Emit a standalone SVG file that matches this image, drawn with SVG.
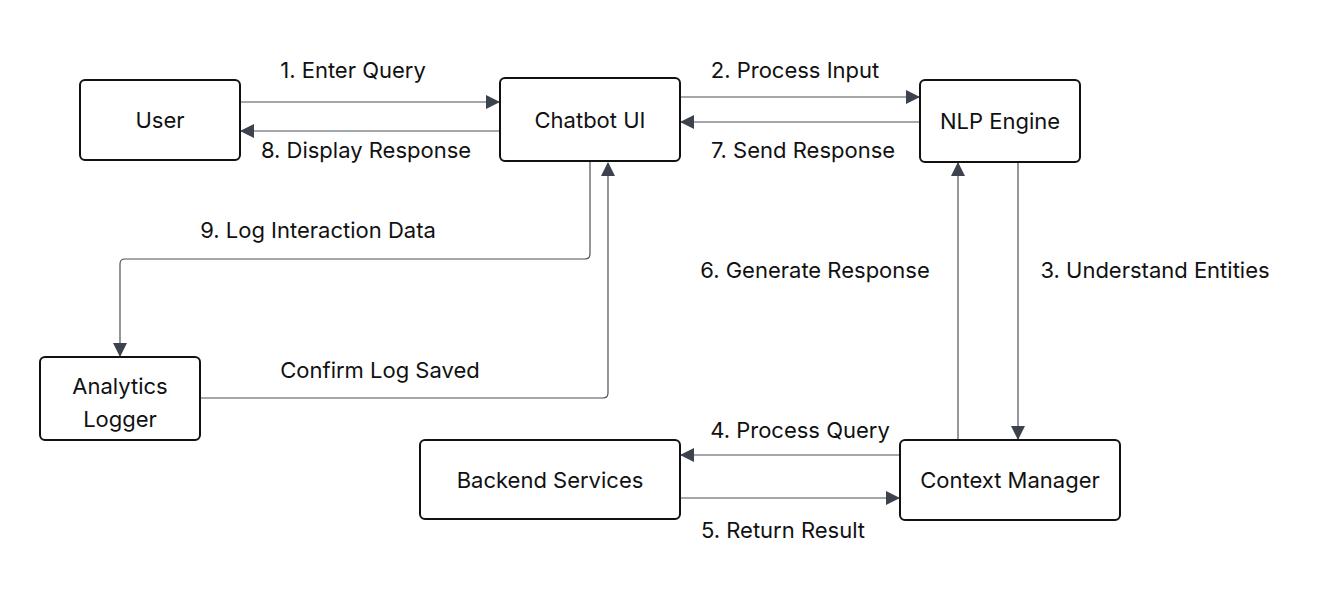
<svg xmlns="http://www.w3.org/2000/svg" width="1340" height="600" viewBox="0 0 1340 600">
<style>
.node rect{fill:#ffffff;stroke:#111111;stroke-width:2}
.node text,.lbl{font-family:Inter,"Noto Sans","Liberation Sans",sans-serif;font-size:22px;fill:#111111;text-anchor:middle}
.edge{fill:none;stroke:#4b5058;stroke-width:1.2}
</style>
<defs>
<marker id="arr" viewBox="0 0 14 14" refX="13" refY="7" markerWidth="14" markerHeight="14" markerUnits="userSpaceOnUse" orient="auto">
<path d="M0,0 L14,7 L0,14 Z" fill="#3d434c"/>
</marker>
</defs>
<rect width="1340" height="600" fill="#ffffff"/>
<g id="connectors">
<path class="edge" d="M240,102 H499" marker-end="url(#arr)"/>
<path class="edge" d="M500,131 H241" marker-end="url(#arr)"/>
<path class="edge" d="M680,97 H919" marker-end="url(#arr)"/>
<path class="edge" d="M920,122 H681" marker-end="url(#arr)"/>
<path class="edge" d="M1018,162 V439" marker-end="url(#arr)"/>
<path class="edge" d="M958,440 V163" marker-end="url(#arr)"/>
<path class="edge" d="M900,455 H681" marker-end="url(#arr)"/>
<path class="edge" d="M680,498 H899" marker-end="url(#arr)"/>
<path class="edge" d="M590,162 V254 Q590,259 585,259 H125 Q120,259 120,264 V356" marker-end="url(#arr)"/>
<path class="edge" d="M200,398 H603 Q608,398 608,393 V163" marker-end="url(#arr)"/>
<text class="lbl" x="353" y="78">1. Enter Query</text>
<text class="lbl" x="366" y="158">8. Display Response</text>
<text class="lbl" x="795" y="78">2. Process Input</text>
<text class="lbl" x="803" y="158">7. Send Response</text>
<text class="lbl" x="318" y="238">9. Log Interaction Data</text>
<text class="lbl" x="815" y="278">6. Generate Response</text>
<text class="lbl" x="1155" y="278">3. Understand Entities</text>
<text class="lbl" x="380" y="378">Confirm Log Saved</text>
<text class="lbl" x="800" y="438">4. Process Query</text>
<text class="lbl" x="783" y="538">5. Return Result</text>
</g>
<g id="user" class="node"><rect x="80" y="80" width="160" height="80" rx="5"/><text x="160" y="128">User</text></g>
<g id="chatbot-ui" class="node"><rect x="500" y="78" width="180" height="83" rx="5"/><text x="590" y="128">Chatbot UI</text></g>
<g id="nlp-engine" class="node"><rect x="920" y="80" width="160" height="82" rx="5"/><text x="1000" y="129">NLP Engine</text></g>
<g id="analytics-logger" class="node"><rect x="40" y="357" width="160" height="83" rx="5"/><text x="120" y="394">Analytics</text><text x="120" y="427">Logger</text></g>
<g id="backend-services" class="node"><rect x="420" y="440" width="260" height="79" rx="5"/><text x="550" y="488">Backend Services</text></g>
<g id="context-manager" class="node"><rect x="900" y="440" width="220" height="80" rx="5"/><text x="1010" y="488">Context Manager</text></g>
</svg>
